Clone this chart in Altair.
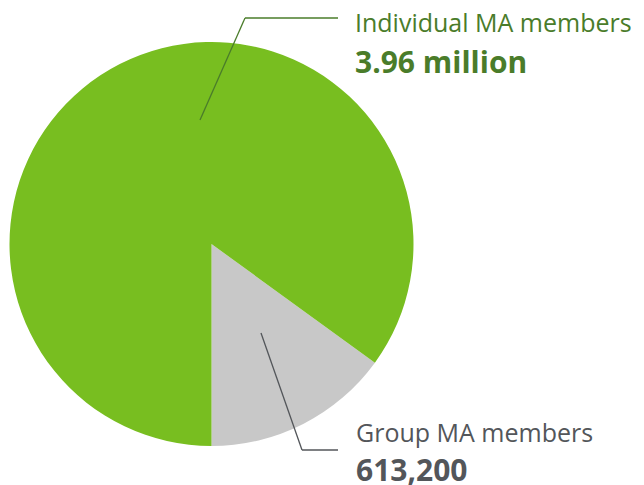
import math
import altair as alt
import pandas as pd

# Data
categories = ["Group MA members", "Individual MA members"]
shares = [15, 85]  # slice share (percent)
value_labels = ["613,200", "3.96 million"]
slice_colors = ["#C8C8C8", "#78BE20"]
text_colors = ["#53565A", "#4A7C2A"]

pie_df = pd.DataFrame({"category": categories, "share": shares, "idx": [0, 1]})
start = math.pi - shares[0] / sum(shares) * 2 * math.pi

cx, cy, R = 203.5, 236, 202

pie = alt.Chart(pie_df).mark_arc(radius=R).encode(
    theta=alt.Theta("share:Q", stack=True,
                    scale=alt.Scale(range=[start, start + 2 * math.pi])),
    color=alt.Color("category:N", scale=alt.Scale(domain=categories, range=slice_colors), legend=None),
    order=alt.Order("idx:Q"),
    x=alt.value(cx),
    y=alt.value(cy),
)

seg_df = pd.DataFrame({
    "x": [192, 237, 253, 294],
    "y": [112, 10, 325, 442],
    "x2": [237, 330, 294, 330],
    "y2": [10, 10, 442, 442],
    "col": [text_colors[1], text_colors[1], text_colors[0], text_colors[0]],
})
leaders = alt.Chart(seg_df).mark_rule(strokeWidth=1.3).encode(
    x=alt.X("x:Q", scale=None),
    y=alt.Y("y:Q", scale=None),
    x2="x2:Q",
    y2="y2:Q",
    color=alt.Color("col:N", scale=None),
)

name_df = pd.DataFrame({
    "text": [categories[1], categories[0]],
    "x": [347, 348],
    "y": [24, 434],
    "col": [text_colors[1], text_colors[0]],
})
value_df = pd.DataFrame({
    "text": [value_labels[1], value_labels[0]],
    "x": [347, 348],
    "y": [65, 473],
    "col": [text_colors[1], text_colors[0]],
})

names = alt.Chart(name_df).mark_text(
    align="left", baseline="alphabetic", font="Open Sans", fontSize=25
).encode(
    x=alt.X("x:Q", scale=None), y=alt.Y("y:Q", scale=None),
    text="text:N", color=alt.Color("col:N", scale=None),
)
values = alt.Chart(value_df).mark_text(
    align="left", baseline="alphabetic", font="Open Sans", fontSize=30, fontWeight="bold"
).encode(
    x=alt.X("x:Q", scale=None), y=alt.Y("y:Q", scale=None),
    text="text:N", color=alt.Color("col:N", scale=None),
)

chart = alt.layer(pie, leaders, names, values).properties(
    width=628, height=477, padding=0,
    autosize=alt.AutoSizeParams(type="none"),
).configure_view(stroke=None)

chart.save("out.html", embed_options={"renderer": "svg", "actions": False})
